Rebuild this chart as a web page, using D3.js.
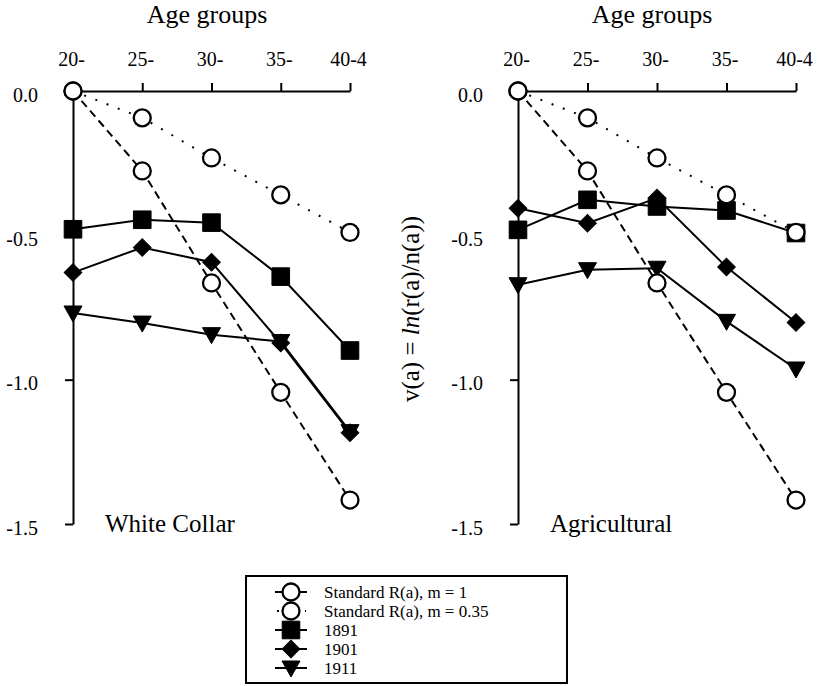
<!DOCTYPE html>
<html><head><meta charset="utf-8">
<script src="https://cdn.jsdelivr.net/npm/d3@7"></script>
<style>
body{margin:0;background:#fff}
svg text{font-family:'Liberation Serif','Tinos','Times New Roman',Times,serif;fill:#000}
</style></head><body>
<svg id="chart" width="817" height="686"></svg>
<script>
// Age groups along the top axis and the v(a) ticks
const ageGroups = ["20-", "25-", "30-", "35-", "40-4"];
const yTicks = [0, -0.5, -1.0, -1.5];

// Standard schedules (same in both panels)
const standardM1 = [0, -0.277, -0.665, -1.044, -1.417];
const standardM035 = [0, -0.093, -0.232, -0.360, -0.490];

// White Collar
const whiteCollar1891 = [-0.479, -0.446, -0.456, -0.643, -0.899];
const whiteCollar1901 = [-0.629, -0.542, -0.593, -0.873, -1.184];
const whiteCollar1911 = [-0.769, -0.804, -0.844, -0.868, -1.180];

// Agricultural
const agri1891 = [-0.481, -0.377, -0.400, -0.414, -0.492];
const agri1901 = [-0.406, -0.458, -0.371, -0.610, -0.802];
const agri1911 = [-0.671, -0.619, -0.614, -0.798, -0.963];

const panelNames = ["White Collar", "Agricultural"];
const legendLabels = ["Standard R(a), m = 1", "Standard R(a), m = 0.35", "1891", "1901", "1911"];

const FONT = "'Liberation Serif','Tinos','Times New Roman',Times,serif";
const svg = d3.select("#chart");

// marker shapes
const triDown = { draw(ctx, size) { ctx.moveTo(-9, -7); ctx.lineTo(9, -7); ctx.lineTo(0, 9); ctx.closePath(); } };
const markers = {
  circle: { type: d3.symbolCircle, size: 227, fill: "#fff", rotate: 0 },
  square: { type: d3.symbolSquare, size: 310, fill: "#000", rotate: 0 },
  diamond: { type: d3.symbolSquare, size: 155, fill: "#000", rotate: 45 },
  triangle: { type: triDown, size: 1, fill: "#000", rotate: 0 }
};
const styles = {
  m1: { dash: "8,5", marker: "circle" },
  m035: { dash: "2,10", marker: "circle" },
  s1891: { dash: null, marker: "square" },
  s1901: { dash: null, marker: "diamond" },
  s1911: { dash: null, marker: "triangle" }
};

const panels = [
  { name: panelNames[0], x0: 73, x1: 350, title: 207,
    series: { s1891: whiteCollar1891, s1901: whiteCollar1901, s1911: whiteCollar1911, m1: standardM1, m035: standardM035 } },
  { name: panelNames[1], x0: 518, x1: 796, title: 652,
    series: { s1891: agri1891, s1901: agri1901, s1911: agri1911, m1: standardM1, m035: standardM035 } }
];
const drawOrder = ["s1891", "s1901", "s1911", "m1", "m035"];

const y = d3.scaleLinear().domain([0, -1.5]).range([91, 524]);

function drawMarker(g, key, cx, cy) {
  const m = markers[styles[key].marker];
  g.append("path")
    .attr("d", d3.symbol().type(m.type).size(m.size)())
    .attr("transform", `translate(${cx},${cy}) rotate(${m.rotate})`)
    .attr("fill", m.fill)
    .attr("stroke", "#000")
    .attr("stroke-width", m.fill === "#fff" ? 2.3 : 1);
}

panels.forEach(p => {
  const x = d3.scalePoint().domain(ageGroups).range([p.x0, p.x1]);
  const g = svg.append("g");

  // top axis with age groups
  const xa = g.append("g").attr("transform", `translate(0,${y(0)})`)
    .call(d3.axisTop(x).tickSize(8).tickSizeOuter(0).tickPadding(17));
  xa.selectAll("text").attr("font-size", 20).attr("dx", -2);

  // left axis
  const ya = g.append("g").attr("transform", `translate(${p.x0},0)`)
    .call(d3.axisLeft(y).tickValues(yTicks).tickSize(8).tickSizeOuter(0).tickPadding(27)
      .tickFormat(d => d.toFixed(1)));
  ya.selectAll("text").attr("font-size", 20).attr("dy", "0.5em");

  [xa, ya].forEach(a => {
    a.attr("font-family", FONT);
    a.selectAll("path, line").attr("stroke", "#000").attr("stroke-width", 2);
    a.selectAll("text").attr("fill", "#000").attr("font-family", FONT);
  });

  g.append("text").attr("x", p.title).attr("y", 23).attr("text-anchor", "middle")
    .attr("font-size", 26).text("Age groups");
  g.append("text").attr("x", p.x0 + 32).attr("y", 532).attr("font-size", 25).text(p.name);

  const line = d3.line().x((d, i) => x(ageGroups[i])).y(d => y(d));
  drawOrder.forEach(key => {
    const vals = p.series[key];
    g.append("path").datum(vals).attr("d", line)
      .attr("fill", "none").attr("stroke", "#000").attr("stroke-width", 2)
      .attr("stroke-dasharray", styles[key].dash);
    vals.forEach((v, i) => drawMarker(g, key, x(ageGroups[i]), y(v)));
  });
});

// y-axis title between the panels
const yl = svg.append("text")
  .attr("transform", "translate(419,309) rotate(-90)")
  .attr("text-anchor", "middle").attr("font-size", 25);
yl.append("tspan").text("v(a) = ");
yl.append("tspan").attr("font-style", "italic").text("ln");
yl.append("tspan").text("(r(a)/n(a))");

// legend
const lg = svg.append("g");
lg.append("rect").attr("x", 246).attr("y", 576).attr("width", 321).attr("height", 107)
  .attr("fill", "#fff").attr("stroke", "#000").attr("stroke-width", 2);
const legendKeys = ["m1", "m035", "s1891", "s1901", "s1911"];
legendKeys.forEach((key, i) => {
  const cy = 592 + i * 19;
  if (key === "m035") {
    lg.append("line").attr("x1", 277).attr("x2", 306).attr("y1", cy).attr("y2", cy)
      .attr("stroke", "#000").attr("stroke-width", 2).attr("stroke-dasharray", "2,12");
  } else {
    lg.append("line").attr("x1", 275).attr("x2", 307).attr("y1", cy).attr("y2", cy)
      .attr("stroke", "#000").attr("stroke-width", 2);
  }
  drawMarker(lg, key, 291, cy);
  lg.append("text").attr("x", 324).attr("y", cy).attr("dy", "0.33em")
    .attr("font-size", 17).text(legendLabels[i]);
});
</script>
</body></html>
